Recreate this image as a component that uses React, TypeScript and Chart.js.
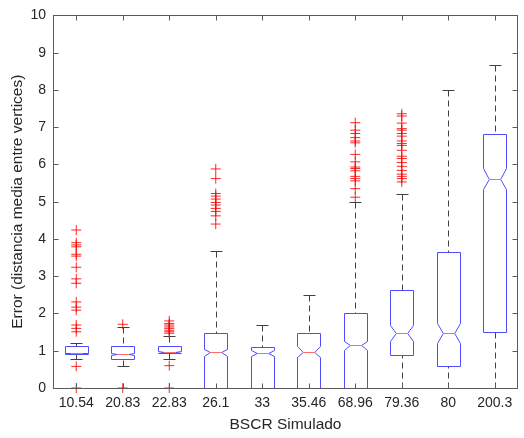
import React, { useEffect, useRef } from 'react';
import { Chart, registerables } from 'chart.js';

Chart.register(...registerables);

const categories = ['10.54', '20.83', '22.83', '26.1', '33', '35.46', '68.96', '79.36', '80', '200.3'];
const q1 = [0.91, 0.77, 0.93, 0, 0, 0, 0, 0.88, 0.59, 1.49];
const medians = [0.93, 0.92, 0.97, 0.96, 0.93, 0.97, 1.15, 1.47, 1.47, 5.62];
const q3 = [1.12, 1.12, 1.12, 1.47, 1.11, 1.47, 2.0, 2.63, 3.66, 6.83];
const notchLow = [0.91, 0.89, 0.95, 0.87, 0.86, 0.82, 1.03, 1.25, 1.2, 5.33];
const notchHigh = [0.95, 0.95, 0.99, 1.05, 1.01, 1.14, 1.27, 1.69, 1.74, 5.91];
const whiskerLow = [0.77, 0.59, 0.77, 0, 0, 0, 0, 0, 0, 0];
const whiskerHigh = [1.22, 1.64, 1.4, 3.67, 1.69, 2.49, 4.99, 5.22, 8.01, 8.66];
const outliers: number[][] = [
  [0, 0.58, 1.51, 1.6, 1.69, 2.09, 2.17, 2.31, 2.81, 2.93, 3.24, 3.54, 3.59, 3.79, 3.84, 3.9, 4.24],
  [0, 1.71],
  [0, 0.6, 1.47, 1.51, 1.55, 1.6, 1.64, 1.69, 1.73, 1.8],
  [4.4, 4.62, 4.74, 4.82, 4.91, 4.98, 5.07, 5.15, 5.22, 5.62, 5.88],
  [],
  [],
  [5.12, 5.35, 5.56, 5.62, 5.68, 5.83, 5.89, 5.93, 6.07, 6.27, 6.58, 6.63, 6.72, 6.83, 6.92, 7.12],
  [5.53, 5.62, 5.68, 5.74, 5.84, 5.95, 6.05, 6.16, 6.22, 6.38, 6.51, 6.56, 6.63, 6.76, 6.83, 6.92, 6.96, 7.11, 7.3, 7.36],
  [],
  [],
];
const yMin = 0;
const yMax = 10;
const yStep = 1;
const xTitle = 'BSCR Simulado';
const yTitle = 'Error (distancia media entre vertices)';

const FONT = "'Liberation Sans', Arial, Helvetica, sans-serif";
const TEXT = '#262626';

const boxPlugin = {
  id: 'boxplot',
  beforeDatasetsDraw(chart: any) {
    const ctx = chart.ctx;
    const ys = chart.scales.y;
    const meta = chart.getDatasetMeta(0);
    const py = (v: number) => Math.round(ys.getPixelForValue(v)) + 0.5;
    ctx.save();
    meta.data.forEach((bar: any, i: number) => {
      const { x, width } = bar.getProps(['x', 'width'], true);
      const cx = Math.round(x) + 0.5;
      const L = Math.round(x - width / 2) + 0.5;
      const R = Math.round(x + width / 2) + 0.5;
      const ind = width / 4;
      ctx.lineWidth = 1;
      // whiskers
      ctx.strokeStyle = '#404040';
      ctx.setLineDash([6, 4]);
      ctx.beginPath();
      if (whiskerHigh[i] > q3[i]) {
        ctx.moveTo(cx, py(whiskerHigh[i]));
        ctx.lineTo(cx, py(q3[i]));
      }
      if (whiskerLow[i] < q1[i]) {
        ctx.moveTo(cx, py(whiskerLow[i]));
        ctx.lineTo(cx, py(q1[i]));
      }
      ctx.stroke();
      ctx.setLineDash([]);
      ctx.beginPath();
      const cl = Math.round(x - width / 4) + 0.5;
      const cr = Math.round(x + width / 4) + 0.5;
      ctx.moveTo(cl, py(whiskerHigh[i]));
      ctx.lineTo(cr, py(whiskerHigh[i]));
      ctx.moveTo(cl, py(whiskerLow[i]));
      ctx.lineTo(cr, py(whiskerLow[i]));
      ctx.stroke();
      // box with notch
      ctx.strokeStyle = '#4d4dff';
      ctx.beginPath();
      ctx.moveTo(L, py(q3[i]));
      ctx.lineTo(R, py(q3[i]));
      ctx.lineTo(R, py(notchHigh[i]));
      ctx.lineTo(R - ind, py(medians[i]));
      ctx.lineTo(R, py(notchLow[i]));
      ctx.lineTo(R, py(q1[i]));
      ctx.lineTo(L, py(q1[i]));
      ctx.lineTo(L, py(notchLow[i]));
      ctx.lineTo(L + ind, py(medians[i]));
      ctx.lineTo(L, py(notchHigh[i]));
      ctx.closePath();
      ctx.stroke();
      // median
      ctx.strokeStyle = '#ff6a6a';
      ctx.beginPath();
      ctx.moveTo(L + ind, py(medians[i]));
      ctx.lineTo(R - ind, py(medians[i]));
      ctx.stroke();
    });
    ctx.restore();
  },
  afterDraw(chart: any) {
    const ctx = chart.ctx;
    const { left, right, top, bottom } = chart.chartArea;
    const xs = chart.scales.x;
    const ys = chart.scales.y;
    const l = Math.round(left) + 0.5;
    const r = Math.round(right) - 0.5;
    const t = Math.round(top) + 0.5;
    const b = Math.round(bottom) + 0.5;
    ctx.save();
    ctx.strokeStyle = '#5a5a5a';
    ctx.lineWidth = 1;
    ctx.strokeRect(l, t, r - l, b - t);
    ctx.beginPath();
    const tl = 5;
    for (let v = yMin; v <= yMax; v += yStep) {
      const y = Math.round(ys.getPixelForValue(v)) + 0.5;
      ctx.moveTo(l, y);
      ctx.lineTo(l + tl, y);
      ctx.moveTo(r, y);
      ctx.lineTo(r - tl, y);
    }
    categories.forEach((_, i) => {
      const x = Math.round(xs.getPixelForValue(i)) + 0.5;
      ctx.moveTo(x, b);
      ctx.lineTo(x, b - tl);
      ctx.moveTo(x, t);
      ctx.lineTo(x, t + tl);
    });
    ctx.stroke();
    ctx.restore();
  },
};

export default function App() {
  const ref = useRef<HTMLCanvasElement | null>(null);
  useEffect(() => {
    if (!ref.current) return;
    const outlierPoints: { x: string; y: number }[] = [];
    outliers.forEach((arr, i) => arr.forEach((v) => outlierPoints.push({ x: categories[i], y: v })));
    const chart = new Chart(ref.current, {
      type: 'bar',
      data: {
        labels: categories,
        datasets: [
          {
            type: 'bar',
            data: categories.map((_, i) => [q1[i], q3[i]]) as any,
            backgroundColor: 'rgba(0,0,0,0)',
            borderWidth: 0,
            barPercentage: 0.5,
            categoryPercentage: 1,
          },
          {
            type: 'scatter',
            data: outlierPoints as any,
            pointStyle: 'cross',
            pointRadius: 5,
            pointHoverRadius: 5,
            borderColor: 'rgba(255,0,0,0.85)',
            borderWidth: 1,
            backgroundColor: 'rgba(255,0,0,0.85)',
            clip: false,
          } as any,
        ],
      },
      options: {
        responsive: false,
        animation: false,
        events: [],
        layout: { padding: { left: 0, right: 2, top: 15, bottom: 0 } },
        plugins: { legend: { display: false }, tooltip: { enabled: false } },
        scales: {
          x: {
            type: 'category',
            offset: true,
            grid: { display: false, drawTicks: false },
            border: { display: false },
            ticks: {
              color: TEXT,
              font: { family: FONT, size: 14 },
              padding: 7,
              autoSkip: false,
              maxRotation: 0,
            },
            title: {
              display: true,
              text: xTitle,
              color: TEXT,
              font: { family: FONT, size: 15.5 },
              padding: { top: 0, bottom: 4 },
            },
            afterFit: (s: any) => {
              s.height = 50;
            },
          },
          y: {
            type: 'linear',
            min: yMin,
            max: yMax,
            grid: { display: false, drawTicks: false },
            border: { display: false },
            ticks: {
              stepSize: yStep,
              color: TEXT,
              font: { family: FONT, size: 14 },
              padding: 7,
            },
            title: {
              display: true,
              text: yTitle,
              color: TEXT,
              font: { family: FONT, size: 15.5 },
              padding: { top: 8, bottom: 0 },
            },
            afterFit: (s: any) => {
              s.width = 53;
            },
          },
        },
      },
      plugins: [boxPlugin],
    });
    return () => chart.destroy();
  }, []);
  return (
    <div style={{ position: 'absolute', left: 0, top: 0, width: 524, height: 438, background: '#fff' }}>
      <canvas ref={ref} width={524} height={438} style={{ display: 'block' }} />
    </div>
  );
}
